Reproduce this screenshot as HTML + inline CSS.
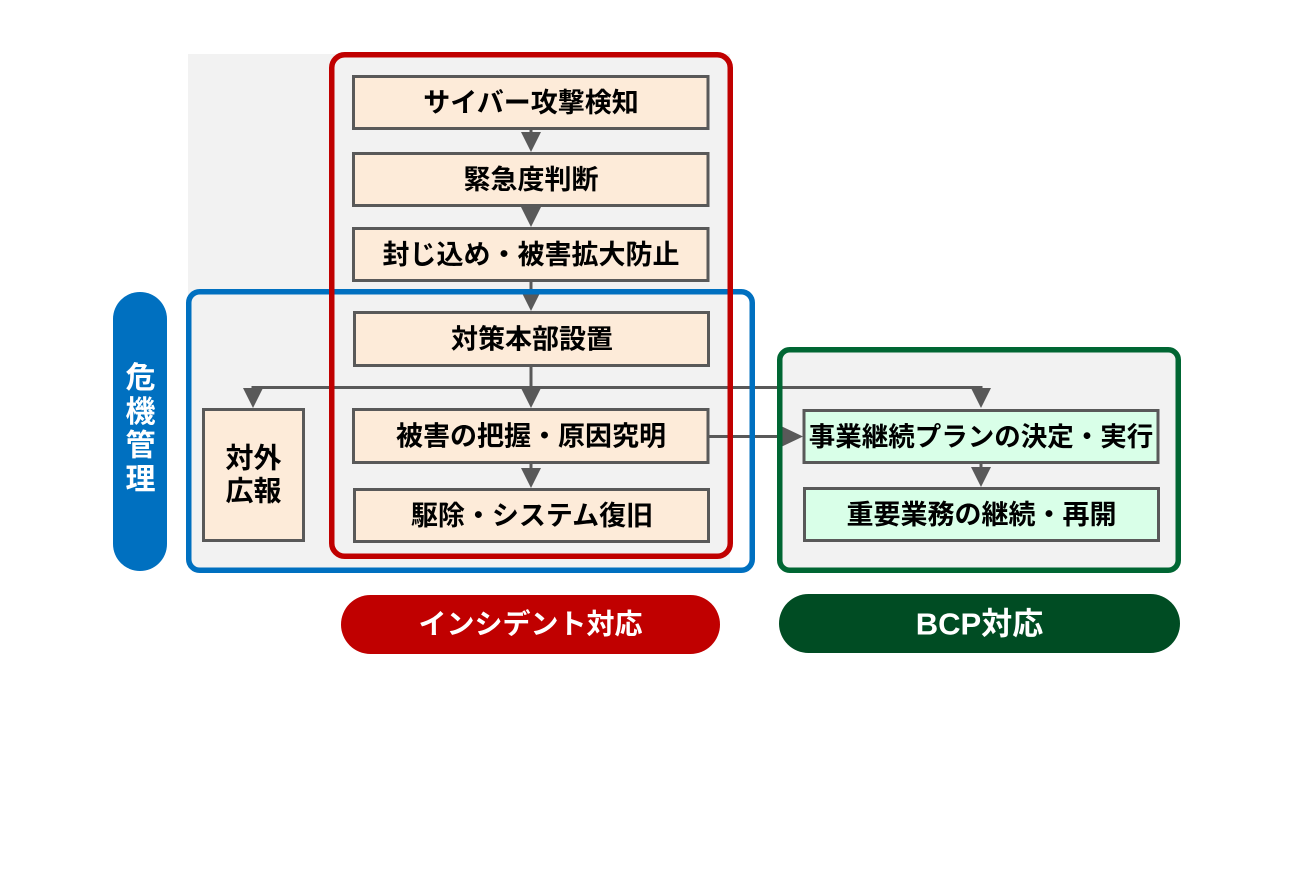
<!DOCTYPE html>
<html>
<head>
<meta charset="utf-8">
<style>
  html, body { margin:0; padding:0; background:#ffffff; }
  body { width:1312px; height:890px; overflow:hidden; }
  svg { display:block; }
  text { font-family: "Liberation Sans", "Noto Sans CJK JP", sans-serif; font-weight:700; }
</style>
</head>
<body>
<svg width="1312" height="890" viewBox="0 0 1312 890" xmlns="http://www.w3.org/2000/svg">
  <rect x="0" y="0" width="1312" height="890" fill="#ffffff"/>

  <!-- gray backgrounds -->
  <rect x="188" y="54" width="542" height="514" fill="#F2F2F2"/>
  <rect x="782" y="352" width="396" height="218" fill="#F2F2F2"/>

  <!-- connectors -->
  <g stroke="#595959" stroke-width="3" fill="none">
    <line x1="531" y1="130" x2="531" y2="134"/>
    <line x1="531" y1="282" x2="531" y2="292"/>
    <line x1="531" y1="366" x2="531" y2="389"/>
    <line x1="252" y1="387.5" x2="982" y2="387.5"/>
    <line x1="253" y1="386" x2="253" y2="390"/>
    <line x1="981" y1="386" x2="981" y2="390"/>
    <line x1="531" y1="463" x2="531" y2="469"/>
    <line x1="709" y1="436.5" x2="784" y2="436.5"/>
    <line x1="981" y1="463" x2="981" y2="468"/>
  </g>
  <g fill="#595959">
    <polygon points="521,132 541,132 531,152"/>
    <polygon points="521,207 541,207 531,227"/>
    <polygon points="521,291 541,291 531,311"/>
    <polygon points="521,388 541,388 531,408"/>
    <polygon points="243,388 263,388 253,408"/>
    <polygon points="971,388 991,388 981,408"/>
    <polygon points="521,468 541,468 531,488"/>
    <polygon points="782,426.5 782,446.5 803,436.5"/>
    <polygon points="971,467 991,467 981,487"/>
  </g>

  <!-- boxes -->
  <g stroke="#595959" stroke-width="3">
    <rect x="353.5" y="76.5" width="354.5" height="52" fill="#FDEBD9"/>
    <rect x="353.5" y="153.5" width="354.5" height="52" fill="#FDEBD9"/>
    <rect x="353.5" y="228.5" width="354.5" height="52" fill="#FDEBD9"/>
    <rect x="354.5" y="312.5" width="354" height="53" fill="#FDEBD9"/>
    <rect x="353.5" y="409.5" width="354.5" height="53" fill="#FDEBD9"/>
    <rect x="354.5" y="489.5" width="354" height="52" fill="#FDEBD9"/>
    <rect x="203.5" y="409.5" width="100" height="131" fill="#FDEBD9"/>
    <rect x="804" y="410.5" width="354" height="52" fill="#D9FFE8"/>
    <rect x="804.5" y="488.5" width="354" height="52" fill="#D9FFE8"/>
  </g>

  <!-- group borders -->
  <rect x="188.75" y="291.75" width="563.5" height="278.5" rx="11" fill="none" stroke="#0070C0" stroke-width="5.5"/>
  <rect x="331.75" y="54.75" width="398.5" height="501.5" rx="13" fill="none" stroke="#C00000" stroke-width="5.5"/>
  <rect x="779.75" y="349.75" width="398.5" height="220.5" rx="10" fill="none" stroke="#006633" stroke-width="5.5"/>

  <!-- pills -->
  <rect x="113" y="292" width="54" height="279" rx="27" fill="#0070C0"/>
  <rect x="341" y="595" width="379" height="59" rx="29.5" fill="#C00000"/>
  <rect x="779" y="594" width="401" height="59" rx="29.5" fill="#004C23"/>

  <!-- box labels -->
  <g fill="#000000" font-size="27" text-anchor="middle" dominant-baseline="central">
    <text x="531" y="103">サイバー攻撃検知</text>
    <text x="531" y="180">緊急度判断</text>
    <text x="531" y="255">封じ込め・被害拡大防止</text>
    <text x="532" y="339.5">対策本部設置</text>
    <text x="531" y="436.5">被害の把握・原因究明</text>
    <text x="532" y="516">駆除・システム復旧</text>
    <text x="253.5" y="458" font-size="28">対外</text>
    <text x="253.5" y="491" font-size="28">広報</text>
    <text x="981" y="437" font-size="26.5">事業継続プランの決定・実行</text>
    <text x="981.5" y="515">重要業務の継続・再開</text>
  </g>

  <!-- pill labels -->
  <g fill="#ffffff" text-anchor="middle" dominant-baseline="central">
    <text x="140.5" y="378.5" font-size="30">危</text>
    <text x="140.5" y="412.3" font-size="30">機</text>
    <text x="140.5" y="446.1" font-size="30">管</text>
    <text x="140.5" y="480" font-size="30">理</text>
    <text x="530.5" y="624" font-size="28">インシデント対応</text>
    <text x="979.5" y="624" font-size="31">BCP対応</text>
  </g>
</svg>
</body>
</html>
